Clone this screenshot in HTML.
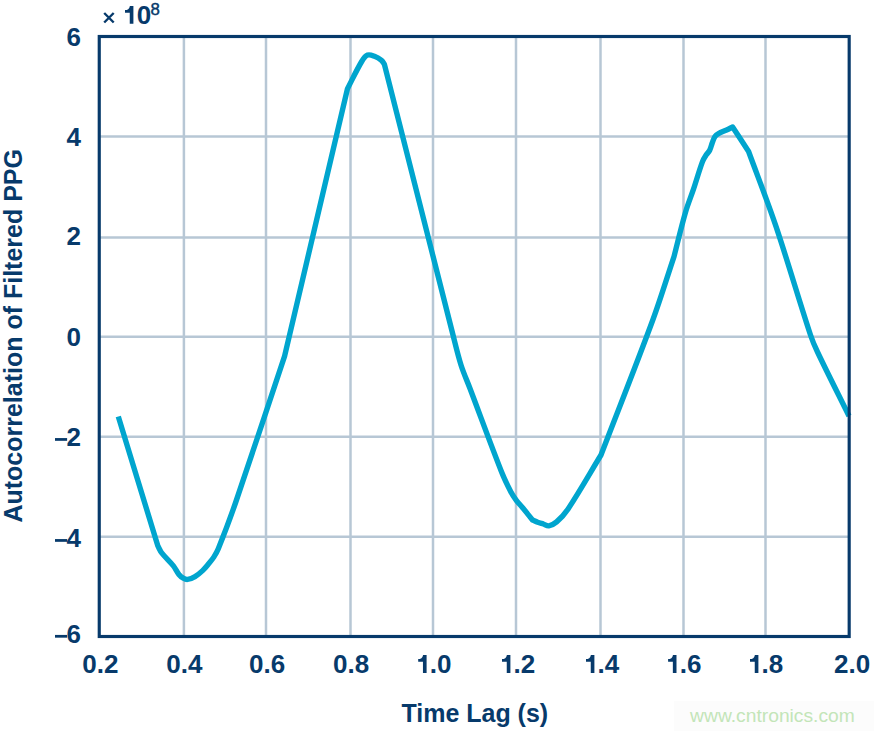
<!DOCTYPE html>
<html><head><meta charset="utf-8"><style>
html,body{margin:0;padding:0;background:#fff;width:874px;height:731px;overflow:hidden}
svg{display:block}
text{font-family:"Liberation Sans",sans-serif;font-weight:bold}
</style></head><body>
<svg width="874" height="731" viewBox="0 0 874 731">
<rect x="674" y="701" width="200" height="30" fill="#fcfcfc"/>
<g stroke="#b7c7d5" stroke-width="2.5" fill="none"><line x1="183.90" y1="36" x2="183.90" y2="636"/><line x1="266.00" y1="36" x2="266.00" y2="636"/><line x1="350.50" y1="36" x2="350.50" y2="636"/><line x1="433.00" y1="36" x2="433.00" y2="636"/><line x1="516.00" y1="36" x2="516.00" y2="636"/><line x1="600.50" y1="36" x2="600.50" y2="636"/><line x1="683.50" y1="36" x2="683.50" y2="636"/><line x1="765.50" y1="36" x2="765.50" y2="636"/><line x1="99" y1="136.50" x2="849" y2="136.50"/><line x1="99" y1="237.50" x2="849" y2="237.50"/><line x1="99" y1="336.70" x2="849" y2="336.70"/><line x1="99" y1="436.70" x2="849" y2="436.70"/><line x1="99" y1="536.70" x2="849" y2="536.70"/></g>
<path d="M118.3 416.5 C131.47 459.6 144.63 502.7 157.8 545.8 C159.1 548.17 160.04 550.77 161.7 552.9 C165.27 557.51 169.77 561.34 173.4 565.9 C175.52 568.56 176.77 571.85 178.9 574.5 C180.1 575.99 181.63 577.26 183.3 578.2 C184.6 578.93 186.13 579.6 187.6 579.4 C190.21 579.04 192.73 577.93 195 576.6 C197.78 574.97 200.25 572.81 202.6 570.6 C204.8 568.53 206.67 566.13 208.6 563.8 C210.41 561.62 212.26 559.47 213.8 557.1 C215.51 554.46 217.13 551.72 218.3 548.8 C224.48 533.33 230.38 517.75 235.8 502 C252.48 453.51 268.33 404.73 284.6 356.1 C305.57 266.97 326.53 177.83 347.5 88.7 C352.23 79.63 356.45 70.28 361.7 61.5 C363.19 59.01 364.91 56.19 367.6 55.1 C369.76 54.22 372.31 55.48 374.5 56.3 C377.02 57.24 379.42 58.6 381.5 60.3 C382.8 61.36 383.43 63.03 384.4 64.4 C407.1 153.93 429.69 243.49 452.5 333 C455.23 343.69 457.68 354.47 461 365 C463.52 373 467.02 380.66 470 388.5 C480.56 416.32 490.66 444.32 501.6 472 C504.26 478.74 507.46 485.27 510.8 491.7 C512.37 494.72 514.27 497.57 516.3 500.3 C518.38 503.11 520.86 505.61 523.1 508.3 C524.96 510.54 526.77 512.83 528.6 515.1 C529.91 516.73 531.2 518.37 532.5 520 C534.23 520.73 535.93 521.55 537.7 522.2 C539.57 522.89 541.5 523.39 543.4 524 C545.2 524.59 546.93 526.1 548.8 525.8 C551.67 525.34 554.41 523.82 556.6 521.9 C560.95 518.09 564.9 513.72 568.1 508.9 C579.74 491.36 590.03 472.97 601 455 C618.27 410 636.16 365.23 652.8 320 C660.49 299.09 666.93 277.73 674 256.6 C677.83 241.8 681.26 226.89 685.5 212.2 C687.76 204.37 690.9 196.82 693.5 189.1 C696.57 179.96 699.13 170.64 702.5 161.6 C703.41 159.17 704.9 156.99 706.3 154.8 C707.31 153.21 708.86 151.98 709.7 150.3 C710.88 147.93 711.35 145.27 712.3 142.8 C713.12 140.67 713.72 138.39 715 136.5 C715.85 135.24 717.18 134.34 718.5 133.6 C721.08 132.16 723.92 131.25 726.6 130 C728.63 129.05 730.6 128 732.6 127 C737.93 135.17 743.27 143.33 748.6 151.5 C757.7 176.4 767.43 201.08 775.9 226.2 C788.06 262.26 798.55 298.87 810.5 335 C812.42 340.82 814.87 346.47 817.5 352 C827.71 373.47 838.5 394.67 849 416" fill="none" stroke="#00a5ce" stroke-width="5.4" stroke-linejoin="round" stroke-linecap="butt"/>
<rect x="99.25" y="36.5" width="749.93" height="600" fill="none" stroke="#073a6b" stroke-width="3.15"/>
<g fill="#073a6b" font-size="26"><text x="82.20" y="672.90">0</text><text x="96.66" y="672.90">.</text><text x="103.88" y="672.90">2</text><text x="166.20" y="672.90">0</text><text x="180.66" y="672.90">.</text><text x="187.88" y="672.90">4</text><text x="249.00" y="672.90">0</text><text x="263.46" y="672.90">.</text><text x="270.68" y="672.90">6</text><text x="333.00" y="672.90">0</text><text x="347.46" y="672.90">.</text><text x="354.68" y="672.90">8</text><path transform="translate(418.20 655.00)" d="M8.4 0V17.9H4.75V6.75H0V4.1C2.6 4.1 4.3 3.2 4.9 0Z"/><text x="429.76" y="672.90">.</text><text x="436.98" y="672.90">0</text><path transform="translate(502.00 655.00)" d="M8.4 0V17.9H4.75V6.75H0V4.1C2.6 4.1 4.3 3.2 4.9 0Z"/><text x="513.56" y="672.90">.</text><text x="520.78" y="672.90">2</text><path transform="translate(586.00 655.00)" d="M8.4 0V17.9H4.75V6.75H0V4.1C2.6 4.1 4.3 3.2 4.9 0Z"/><text x="597.56" y="672.90">.</text><text x="604.78" y="672.90">4</text><path transform="translate(668.10 655.00)" d="M8.4 0V17.9H4.75V6.75H0V4.1C2.6 4.1 4.3 3.2 4.9 0Z"/><text x="679.66" y="672.90">.</text><text x="686.88" y="672.90">6</text><path transform="translate(750.00 655.00)" d="M8.4 0V17.9H4.75V6.75H0V4.1C2.6 4.1 4.3 3.2 4.9 0Z"/><text x="761.56" y="672.90">.</text><text x="768.78" y="672.90">8</text><text x="834.10" y="672.90">2</text><text x="848.56" y="672.90">.</text><text x="855.78" y="672.90">0</text><text x="66.50" y="45.60">6</text><text x="66.50" y="145.80">4</text><text x="66.50" y="244.80">2</text><text x="66.50" y="345.60">0</text><text x="66.50" y="445.90">2</text><rect x="55" y="438.07" width="12.1" height="2.75"/><text x="66.50" y="546.90">4</text><rect x="55" y="539.07" width="12.1" height="2.75"/><text x="66.50" y="642.75">6</text><rect x="55" y="634.92" width="12.1" height="2.75"/>
<path d="M104.2 13L113.7 22.5M113.7 13L104.2 22.5" stroke="#073a6b" stroke-width="2.4" fill="none"/>
<path transform="translate(125 5.9)" d="M8.4 0V17.9H4.75V6.75H0V4.1C2.6 4.1 4.3 3.2 4.9 0Z"/>
<text x="136.76" y="23.8">0</text>
<text x="150.6" y="14.8" font-size="16.8" style="font-weight:normal" stroke="#073a6b" stroke-width="0.45">8</text>
<text transform="translate(401.4 721.7) scale(1 1.035)" font-size="25">Time Lag (s)</text>
<text transform="translate(22.2 522) rotate(-90) scale(1 1.035)" x="-0.62" font-size="25">Autocorrelation of Filtered PPG</text>
</g>
<text x="690.1" y="721.8" font-size="19.25" style="font-weight:normal" fill="#c3e5b8">www.cntronics.com</text>
</svg>
</body></html>
